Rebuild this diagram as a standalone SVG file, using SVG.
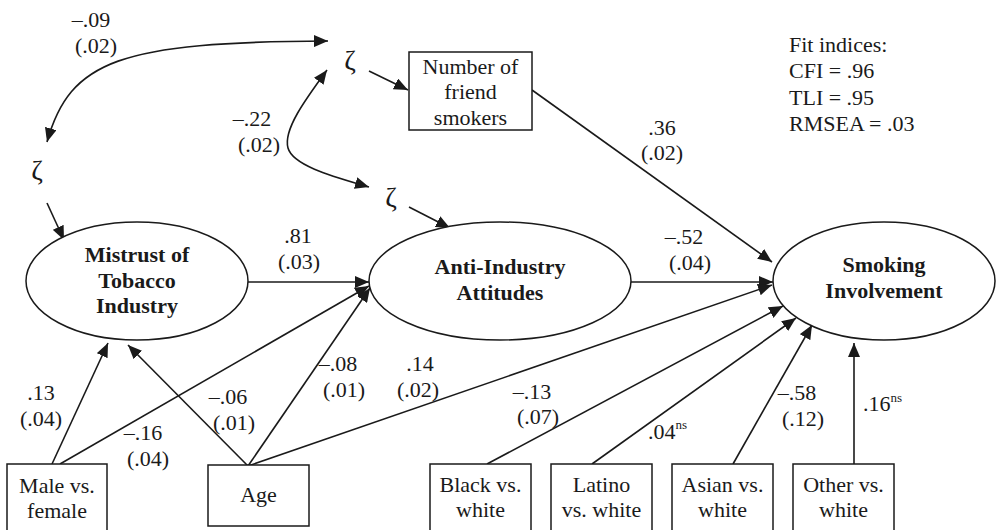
<svg xmlns="http://www.w3.org/2000/svg" width="997" height="530" viewBox="0 0 997 530">
<style>
text{font-family:"Liberation Serif","Times New Roman",serif;fill:#1a1a1a;font-size:22px}
.c{text-anchor:middle}
.b{font-weight:bold}
.sup{font-size:13px}
.z{font-size:28px}
.shape{fill:#fff;stroke:#1a1a1a;stroke-width:1.5}
.ln{fill:none;stroke:#1a1a1a;stroke-width:1.6;marker-end:url(#ah)}
.dbl{marker-start:url(#ah2)}
</style>
<defs>
<marker id="ah" markerWidth="14" markerHeight="12" refX="14" refY="6" orient="auto" markerUnits="userSpaceOnUse"><path d="M0,0 L14,6 L0,12 z" fill="#1a1a1a"/></marker>
<marker id="ah2" markerWidth="14" markerHeight="12" refX="14" refY="6" orient="auto-start-reverse" markerUnits="userSpaceOnUse"><path d="M0,0 L14,6 L0,12 z" fill="#1a1a1a"/></marker>
</defs>
<g id="connectors">
<path class="ln dbl" d="M47,142 C70,60 120,42 328,41"/>
<path class="ln dbl" d="M327,70 C305,100 283,130 288,148 C293,166 335,177 369,187"/>
<path class="ln" d="M369,71 L408,90"/>
<path class="ln" d="M47,203 L64,240"/>
<path class="ln" d="M409,207 L450,228"/>
<path class="ln" d="M532,90 L772,262"/>
<path class="ln" d="M248,282 L369,282"/>
<path class="ln" d="M631,282 L773,282"/>
<path class="ln" d="M52,464 L108,343"/>
<path class="ln" d="M60,464 L369,286"/>
<path class="ln" d="M248,466 L128,345"/>
<path class="ln" d="M248,466 L370,288"/>
<path class="ln" d="M248,466 L772,285"/>
<path class="ln" d="M487,464 L783,306"/>
<path class="ln" d="M592,464 L796,318"/>
<path class="ln" d="M733,464 L812,325"/>
<path class="ln" d="M854,464 L854,343"/>
</g>
<g id="labels">
<text class="c" x="91" y="27">–.09</text>
<text class="c" x="96" y="53">(.02)</text>
<text class="c" x="252" y="126">–.22</text>
<text class="c" x="259" y="152">(.02)</text>
<text class="c" x="662" y="135">.36</text>
<text class="c" x="662" y="160">(.02)</text>
<text class="c" x="298" y="243">.81</text>
<text class="c" x="299" y="269">(.03)</text>
<text class="c" x="684" y="244">–.52</text>
<text class="c" x="690" y="270">(.04)</text>
<text class="c" x="41" y="400">.13</text>
<text class="c" x="41" y="426">(.04)</text>
<text class="c" x="143" y="440">–.16</text>
<text class="c" x="148" y="466">(.04)</text>
<text class="c" x="228" y="404">–.06</text>
<text class="c" x="234" y="430">(.01)</text>
<text class="c" x="338" y="371">–.08</text>
<text class="c" x="344" y="397">(.01)</text>
<text class="c" x="420" y="371">.14</text>
<text class="c" x="418" y="397">(.02)</text>
<text class="c" x="532" y="399">–.13</text>
<text class="c" x="538" y="424">(.07)</text>
<text x="648" y="439">.04<tspan class="sup" dy="-10">ns</tspan></text>
<text class="c" x="797" y="400">–.58</text>
<text class="c" x="803" y="426">(.12)</text>
<text x="863" y="411">.16<tspan class="sup" dy="-9">ns</tspan></text>
</g>
<g id="zeta-top"><text class="c z" x="350" y="70">ζ</text></g>
<g id="zeta-left"><text class="c z" x="37" y="180">ζ</text></g>
<g id="zeta-mid"><text class="c z" x="391" y="207">ζ</text></g>
<g id="fit">
<text x="789" y="52">Fit indices:</text>
<text x="789" y="78">CFI = .96</text>
<text x="789" y="105">TLI = .95</text>
<text x="789" y="131">RMSEA = .03</text>
</g>
<g id="friends">
<rect class="shape" x="409" y="52" width="123" height="78"/>
<text class="c" x="470.5" y="74">Number of</text>
<text class="c" x="470.5" y="99">friend</text>
<text class="c" x="470.5" y="125">smokers</text>
</g>
<g id="mistrust">
<ellipse class="shape" cx="137" cy="281" rx="111" ry="59"/>
<text class="c b" x="137" y="262">Mistrust of</text>
<text class="c b" x="137" y="288">Tobacco</text>
<text class="c b" x="137" y="313">Industry</text>
</g>
<g id="anti">
<ellipse class="shape" cx="500" cy="281" rx="131" ry="59"/>
<text class="c b" x="500" y="274">Anti-Industry</text>
<text class="c b" x="500" y="300">Attitudes</text>
</g>
<g id="smoking">
<ellipse class="shape" cx="884" cy="281" rx="111" ry="59"/>
<text class="c b" x="884" y="272">Smoking</text>
<text class="c b" x="884" y="298">Involvement</text>
</g>
<g id="male">
<rect class="shape" x="7" y="464" width="100" height="80"/>
<text class="c" x="57" y="493">Male vs.</text>
<text class="c" x="57" y="518">female</text>
</g>
<g id="age">
<rect class="shape" x="208" y="465" width="101" height="61"/>
<text class="c" x="258.5" y="502">Age</text>
</g>
<g id="black">
<rect class="shape" x="430" y="464" width="101" height="80"/>
<text class="c" x="480.5" y="492">Black vs.</text>
<text class="c" x="480.5" y="517">white</text>
</g>
<g id="latino">
<rect class="shape" x="551" y="464" width="101" height="80"/>
<text class="c" x="601.5" y="492">Latino</text>
<text class="c" x="601.5" y="517">vs. white</text>
</g>
<g id="asian">
<rect class="shape" x="672" y="464" width="101" height="80"/>
<text class="c" x="722.5" y="492">Asian vs.</text>
<text class="c" x="722.5" y="517">white</text>
</g>
<g id="other">
<rect class="shape" x="793" y="464" width="101" height="80"/>
<text class="c" x="843.5" y="492">Other vs.</text>
<text class="c" x="843.5" y="517">white</text>
</g>
</svg>
